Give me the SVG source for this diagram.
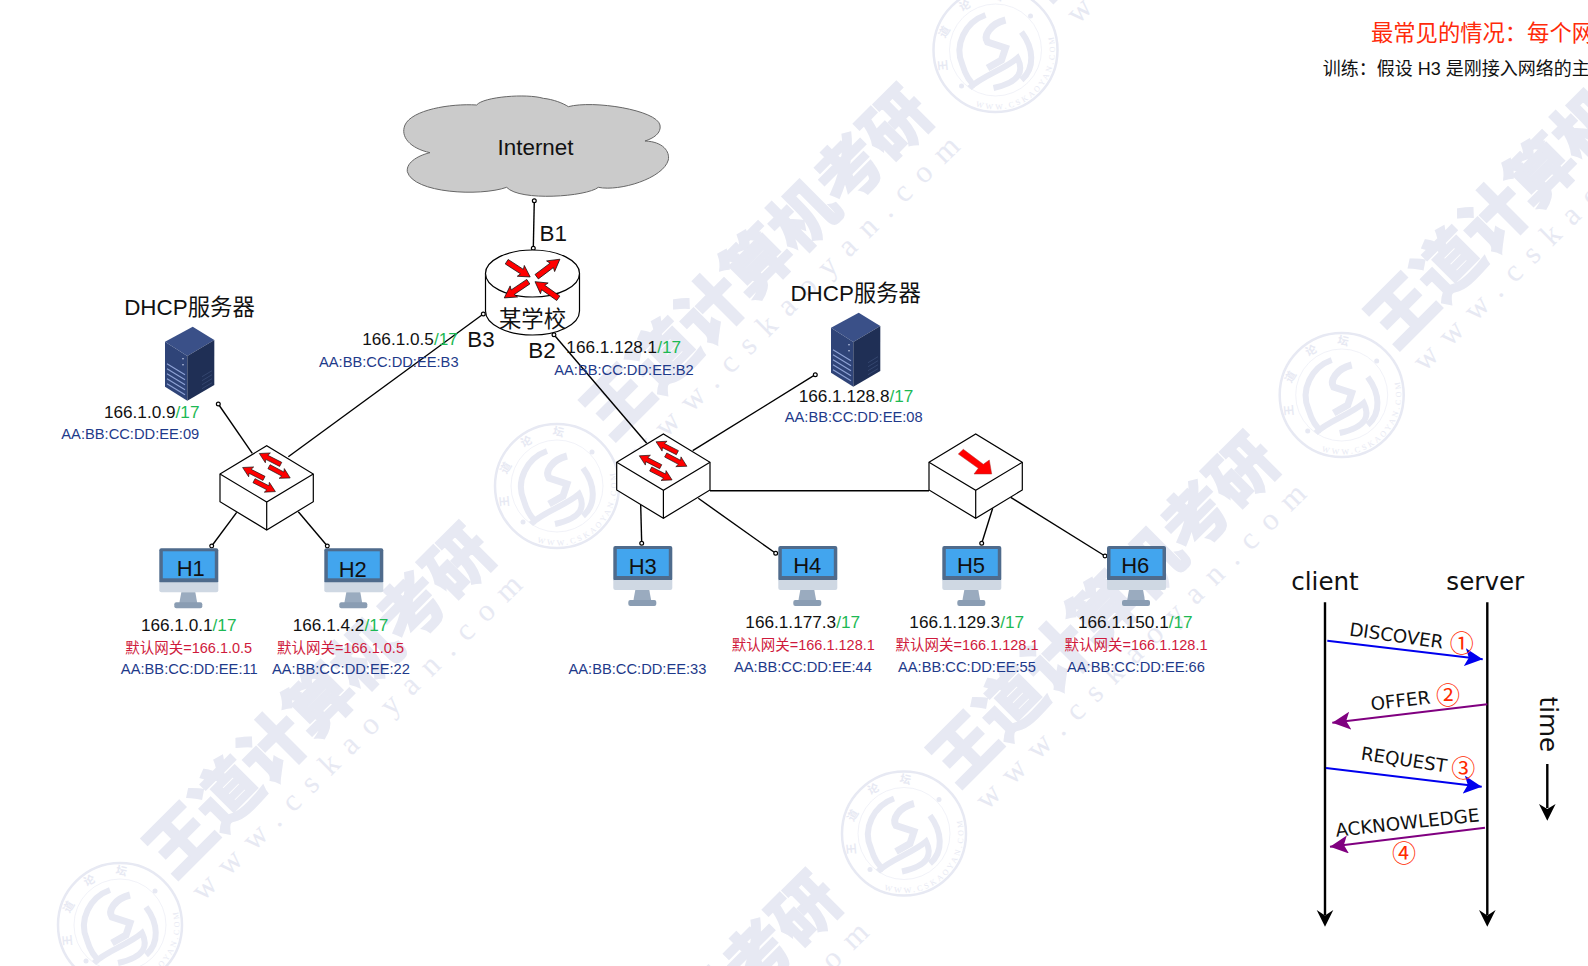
<svg xmlns="http://www.w3.org/2000/svg" xmlns:xlink="http://www.w3.org/1999/xlink" width="1588" height="966" viewBox="0 0 1588 966">
<style>
text{font-family:"Liberation Sans","Noto Sans CJK SC",sans-serif;text-anchor:middle}
.ip{font-size:17.2px;fill:#111}
.g{fill:#1db954}
.gw{font-size:14.5px;fill:#cf1a3c}
.mac{font-size:14.7px;fill:#1e3a8a}
.big{font-size:22.4px;fill:#111}
.hn{font-size:22px;fill:#111}
.seq{font-family:"DejaVu Sans",sans-serif;font-size:18.3px;fill:#111}
.seqh{font-family:"DejaVu Sans",sans-serif;font-size:24.6px;fill:#111}
.num{font-family:"Noto Sans CJK SC",sans-serif;font-size:24px;fill:#ff2a00}
.l{stroke:#000;stroke-width:1.4;fill:none}
.d{fill:#fff;stroke:#000;stroke-width:1.2}
.wmt{font-family:"Noto Sans CJK SC",sans-serif;font-weight:900;font-size:66px;fill:#e7e9f3;stroke:#e7e9f3;stroke-width:1.5;text-anchor:start;letter-spacing:-.5px}
.wmu{font-family:"Liberation Serif",serif;font-size:31px;fill:#e7e9f3;text-anchor:start}
.sl{fill:none;stroke:#e7e9f3}
.st{fill:#e7e9f3;text-anchor:start}
</style>
<defs>
<path id="ar" d="M0,-1.9L13,-1.9L12,-4.6L20,0L12,4.6L13,1.9L0,1.9Z" fill="#f00" stroke="#111" stroke-width=".5"/>
<marker id="mb" markerUnits="userSpaceOnUse" markerWidth="20" markerHeight="20" refX="18" refY="9" orient="auto"><path d="M0,0L18,9L0,18L4,9Z" fill="#0000ee"/></marker>
<marker id="mp" markerUnits="userSpaceOnUse" markerWidth="20" markerHeight="20" refX="18" refY="9" orient="auto"><path d="M0,0L18,9L0,18L4,9Z" fill="#800080"/></marker>
<g id="box">
<path d="M0,28.3L46.7,0L93.3,28.3L93.3,56L46.7,84.3L0,56Z" fill="#fff" stroke="#000" stroke-width="1.2"/>
<path d="M0,28.3L46.7,56.3L93.3,28.3M46.7,56.3V84.3" fill="none" stroke="#000" stroke-width="1.2"/>
</g>
<g id="sw">
<use href="#box"/>
<use href="#ar" transform="translate(60.7,18.7) rotate(207) scale(1.2)"/>
<use href="#ar" transform="translate(49,21) rotate(28) scale(1.2)"/>
<use href="#ar" transform="translate(44,32.7) rotate(207) scale(1.2)"/>
<use href="#ar" transform="translate(34,35) rotate(27) scale(1.2)"/>
</g>
<g id="pc">
<rect x="0" y="0" width="59" height="35" rx="2" fill="#4f6b8c"/>
<rect x="3.5" y="3" width="52" height="27" fill="#42a5ee"/>
<path d="M0,34H59V42Q59,44 57,44H2Q0,44 0,42Z" fill="#cfd8e3"/>
<path d="M22,44H36L38,55H20Z" fill="#9aabbf"/>
<rect x="15" y="54" width="28" height="6" rx="2" fill="#8a9db3"/>
</g>
<g id="srv">
<path d="M27.7,0L49.3,13.3L22.3,29.3L0,15Z" fill="#3a5088"/>
<path d="M0,15L22.3,29.3V74L0,60Z" fill="#2f4478"/>
<path d="M22.3,29.3L49.3,13.3V58.3L22.3,74Z" fill="#1f2f55"/>
<path d="M2,37L20,48M2,42L20,53M2,47L20,58M2,52L20,63M2,57L20,68" stroke="#8fa3d6" stroke-width="1.1"/>
<path d="M37,50L47,44M37,54L47,48M37,58L47,52M37,62L47,56" stroke="#34466f" stroke-width="1"/>
<circle cx="18" cy="32" r=".8" fill="#c9d3ee"/><circle cx="18" cy="38" r=".8" fill="#c9d3ee"/>
</g>
<g id="wm">
<text class="wmt" transform="translate(174,880) rotate(-45)">王道计算机考研</text>
<text class="wmu" textLength="450" lengthAdjust="spacing" transform="translate(203,902) rotate(-44.5)">www.cskaoyan.com</text>
</g>
<path id="sa" d="M-20,56A59.5,59.5 0 0 0 57,-17"/>
<path id="sb" d="M-46,20A50,50 0 0 1 18,-46"/>
<g id="seal">
<circle class="sl" r="62" stroke-width="2.5"/>
<circle class="sl" r="46" stroke-width=".6"/>
<path class="sl" stroke-width="6" d="M-10,-35C-30,-28 -42,-5 -33,15C-30,25 -26,32 -20,36"/>
<path class="sl" stroke-width="6" d="M-26,38C-14,26 8,20 22,8C28,20 26,32 -2,38"/>
<path class="sl" stroke-width="6" d="M26,-18C38,-2 40,18 26,30"/>
<path class="sl" stroke-width="7" d="M10,-30C-6,-26 -12,-14 -8,-8L10,-2L6,10L-8,18"/>
<circle cx="35" cy="-34" r="2.5" fill="#e7e9f3"/><circle cx="-34" cy="36" r="2.5" fill="#e7e9f3"/>
<text class="st" style="font-family:'Liberation Serif',serif;font-size:8px;letter-spacing:2.6px"><textPath href="#sa">WWW.CSKAOYAN.COM</textPath></text>
<text class="st" style="font-family:'Noto Sans CJK SC',sans-serif;font-weight:700;font-size:11px;letter-spacing:20px"><textPath href="#sb">王道论坛</textPath></text>
</g>
</defs>
<rect width="1588" height="966" fill="#fff"/>
<g id="watermark">
<use href="#wm"/>
<use href="#wm" transform="translate(437.5,-438.5)"/>
<use href="#wm" transform="translate(875,-877)"/>
<use href="#wm" transform="translate(784,-91)"/>
<use href="#wm" transform="translate(1221.5,-529.5)"/>
<use href="#wm" transform="translate(346.5,347.5)"/>
<use href="#seal" transform="translate(120,925)"/>
<use href="#seal" transform="translate(557,486)"/>
<use href="#seal" transform="translate(995.5,50)"/>
<use href="#seal" transform="translate(904,833.5)"/>
<use href="#seal" transform="translate(1341.7,395)"/>
</g>
<g id="connectors">
<path class="l" d="M534.3,200.7L533.3,248.3"/>
<path class="l" d="M288.3,456.7L483.3,314"/>
<path class="l" d="M554,334.7L646.7,443.3"/>
<path class="l" d="M218.3,404L252.3,453.3"/>
<path class="l" d="M236.7,512.3L211.7,546"/>
<path class="l" d="M298.3,511.7L327.3,546"/>
<path class="l" d="M692.7,450.7L815.3,374.7"/>
<path class="l" d="M640.7,505L641.7,543.3"/>
<path class="l" d="M698.3,498.3L775.7,553.3"/>
<path class="l" d="M710,490.7H929"/>
<path class="l" d="M992.7,508.3L981.7,543.3"/>
<path class="l" d="M1010.7,497.3L1105,556"/>
<g>
<circle class="d" cx="534.3" cy="200.7" r="1.9"/><circle class="d" cx="533.3" cy="248.3" r="1.9"/>
<circle class="d" cx="483.3" cy="314" r="1.9"/><circle class="d" cx="554" cy="334.7" r="1.9"/>
<circle class="d" cx="218.3" cy="404" r="1.9"/><circle class="d" cx="211.7" cy="546" r="1.9"/>
<circle class="d" cx="327.3" cy="546" r="1.9"/><circle class="d" cx="815.3" cy="374.7" r="1.9"/>
<circle class="d" cx="641.7" cy="543.3" r="1.9"/><circle class="d" cx="775.7" cy="553.3" r="1.9"/>
<circle class="d" cx="981.7" cy="543.3" r="1.9"/><circle class="d" cx="1105" cy="556" r="1.9"/>
</g>
</g>
<g id="internet">
<path transform="translate(380,80) scale(.3333)" d="M150,218C90,205 60,170 75,135C95,90 210,70 290,75C310,50 440,40 490,55C520,58 550,70 565,80C640,60 830,90 840,135C845,160 820,175 795,183C850,185 870,215 865,240C850,295 720,335 655,322C620,350 420,365 380,322C300,350 100,340 82,275C78,245 120,225 150,218Z" fill="#cbcbcb" stroke="#666" stroke-width="3"/>
<text class="big" x="535.5" y="155">Internet</text>
</g>
<g id="router">
<path d="M485.5,273.5V311A47,24 0 0 0 579.5,311V273.5" fill="#fff" stroke="#000" stroke-width="1.2"/>
<ellipse cx="532.5" cy="273.5" rx="47" ry="23.5" fill="#fff" stroke="#000" stroke-width="1.2"/>
<use href="#ar" transform="translate(506.7,261.7) rotate(33) scale(1.4)"/>
<use href="#ar" transform="translate(536.7,276.7) rotate(-37) scale(1.45)"/>
<use href="#ar" transform="translate(528.3,281.7) rotate(146) scale(1.45)"/>
<use href="#ar" transform="translate(558.3,298.3) rotate(215.5) scale(1.43)"/>
<text class="big" x="532.5" y="327">某学校</text>
</g>
<g id="labels-router">
<text class="big" x="553.3" y="240.7">B1</text>
<text class="big" x="481" y="347.3">B3</text>
<text class="big" x="542" y="357.7">B2</text>
<text class="ip" x="410" y="345">166.1.0.5<tspan class="g">/17</tspan></text>
<text class="mac" x="388.8" y="367.3">AA:BB:CC:DD:EE:B3</text>
<text class="ip" x="623.7" y="352.7">166.1.128.1<tspan class="g">/17</tspan></text>
<text class="mac" x="624" y="375">AA:BB:CC:DD:EE:B2</text>
</g>
<g id="dhcp1">
<text class="big" x="189.5" y="315">DHCP服务器</text>
<use href="#srv" x="165" y="326.7"/>
<text class="ip" x="151.7" y="417.7">166.1.0.9<tspan class="g">/17</tspan></text>
<text class="mac" x="130.3" y="439">AA:BB:CC:DD:EE:09</text>
</g>
<g id="dhcp2">
<text class="big" x="855.7" y="301">DHCP服务器</text>
<use href="#srv" x="831" y="312.7"/>
<text class="ip" x="856" y="401.7">166.1.128.8<tspan class="g">/17</tspan></text>
<text class="mac" x="853.7" y="422.3">AA:BB:CC:DD:EE:08</text>
</g>
<g id="switch1"><use href="#sw" x="220" y="445.7"/></g>
<g id="switch2"><use href="#sw" x="616.7" y="434"/></g>
<g id="hub">
<use href="#box" x="929" y="434"/>
<path d="M963.3,449.3L983.3,464.3L989.3,460L991.7,474L974,474L978.3,468.3L958.3,454Z" fill="#f00" stroke="#a33" stroke-width=".5"/>
</g>
<g id="H1">
<use href="#pc" x="159.3" y="548.3"/>
<text class="hn" x="190.7" y="576">H1</text>
<text class="ip" x="188.7" y="630.7">166.1.0.1<tspan class="g">/17</tspan></text>
<text class="gw" x="188.7" y="652.7">默认网关=166.1.0.5</text>
<text class="mac" x="189.3" y="674">AA:BB:CC:DD:EE:11</text>
</g>
<g id="H2">
<use href="#pc" x="324.3" y="548.3"/>
<text class="hn" x="352.7" y="577">H2</text>
<text class="ip" x="340.5" y="630.7">166.1.4.2<tspan class="g">/17</tspan></text>
<text class="gw" x="340.5" y="652.7">默认网关=166.1.0.5</text>
<text class="mac" x="341" y="674">AA:BB:CC:DD:EE:22</text>
</g>
<g id="H3">
<use href="#pc" x="613.3" y="546"/>
<text class="hn" x="642.7" y="574">H3</text>
<text class="mac" x="637.5" y="674.3">AA:BB:CC:DD:EE:33</text>
</g>
<g id="H4">
<use href="#pc" x="778.3" y="546"/>
<text class="hn" x="807.3" y="573">H4</text>
<text class="ip" x="802.7" y="627.7">166.1.177.3<tspan class="g">/17</tspan></text>
<text class="gw" x="803.3" y="650">默认网关=166.1.128.1</text>
<text class="mac" x="803" y="672.3">AA:BB:CC:DD:EE:44</text>
</g>
<g id="H5">
<use href="#pc" x="942.3" y="546"/>
<text class="hn" x="971" y="573">H5</text>
<text class="ip" x="966.7" y="627.7">166.1.129.3<tspan class="g">/17</tspan></text>
<text class="gw" x="967" y="650">默认网关=166.1.128.1</text>
<text class="mac" x="967" y="672.3">AA:BB:CC:DD:EE:55</text>
</g>
<g id="H6">
<use href="#pc" x="1107" y="546"/>
<text class="hn" x="1135.3" y="573">H6</text>
<text class="ip" x="1135.3" y="627.7">166.1.150.1<tspan class="g">/17</tspan></text>
<text class="gw" x="1136" y="650">默认网关=166.1.128.1</text>
<text class="mac" x="1136" y="672.3">AA:BB:CC:DD:EE:66</text>
</g>
<g id="notes">
<text x="1371" y="41" style="text-anchor:start;font-size:22.3px;fill:#ff2a0a">最常见的情况：每个网</text>
<text x="1322.7" y="74.5" style="text-anchor:start;font-size:18px;fill:#111">训练：假设 H3 是刚接入网络的主</text>
</g>
<g id="sequence">
<text class="seqh" x="1325" y="590">client</text>
<text class="seqh" x="1485.3" y="590">server</text>
<path d="M1325,602.3V915M1487.3,602.3V915M1547.3,764V808" stroke="#000" stroke-width="2.4" fill="none"/>
<path d="M1316.7,910L1325,915.5L1333.3,910L1325,926.7Z M1479,910L1487.3,915.5L1495.6,910L1487.3,926.7Z M1539,804L1547.3,809L1555.6,804L1547.3,820.7Z" fill="#000"/>
<path d="M1327.3,640.7L1482.7,659.3" stroke="#0000ee" stroke-width="2" marker-end="url(#mb)"/>
<path d="M1487.3,704.3L1332.3,722.7" stroke="#800080" stroke-width="2" marker-end="url(#mp)"/>
<path d="M1326,768L1481.7,786.7" stroke="#0000ee" stroke-width="2" marker-end="url(#mb)"/>
<path d="M1485,827.7L1330,846.7" stroke="#800080" stroke-width="2" marker-end="url(#mp)"/>
<text class="seq" transform="translate(1395.5,642) rotate(8)">DISCOVER</text>
<text class="seq" transform="translate(1401.2,707) rotate(-6.8)">OFFER</text>
<text class="seq" transform="translate(1403,766) rotate(8.5)">REQUEST</text>
<text class="seq" transform="translate(1408,829) rotate(-6.2)">ACKNOWLEDGE</text>
<text class="num" x="1461.7" y="652">①</text>
<text class="num" x="1448" y="704">②</text>
<text class="num" x="1463.3" y="777">③</text>
<text class="num" x="1404" y="862">④</text>
<text class="seqh" transform="translate(1539.5,724.3) rotate(90)">time</text>
</g>
</svg>
